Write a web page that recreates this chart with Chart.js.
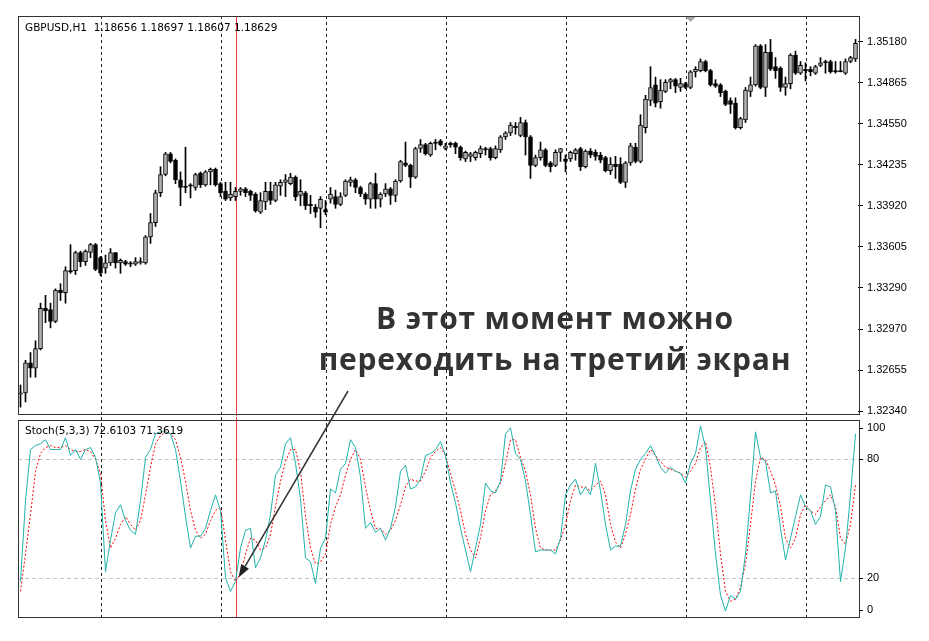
<!DOCTYPE html>
<html>
<head>
<meta charset="utf-8">
<script src="https://cdn.jsdelivr.net/npm/chart.js@4.4.1/dist/chart.umd.min.js"></script>
<style>
  html, body { margin: 0; padding: 0; background: #fff; }
  #wrap { position: relative; width: 929px; height: 641px; }
  #wrap canvas { position: absolute; left: 0; top: 0; }
</style>
</head>
<body>
<div id="wrap">
  <canvas id="price" width="929" height="641"></canvas>
  <canvas id="stoch" width="929" height="641"></canvas>
</div>
<script>
// GBPUSD H1 - свечи (open / high / low / close)
const openP = [
  1.3247, 1.3248, 1.3271, 1.3267, 1.3282, 1.3313, 1.3312, 1.3303, 1.3327, 1.3325,
  1.3342, 1.3342, 1.3356, 1.3349, 1.3356, 1.3362, 1.3352, 1.3344, 1.3348, 1.3356,
  1.3348, 1.3349, 1.3348, 1.3347, 1.3348, 1.3348, 1.3368, 1.3379, 1.3402, 1.3416,
  1.3432, 1.3427, 1.3412, 1.3407, 1.3408, 1.3406, 1.3417, 1.3408, 1.3418, 1.3420,
  1.3409, 1.3403, 1.3398, 1.3399, 1.3403, 1.3405, 1.3403, 1.3401, 1.3387, 1.3395,
  1.3403, 1.3396, 1.3407, 1.3410, 1.3409, 1.3414, 1.3400, 1.3402, 1.3393, 1.3391,
  1.3390, 1.3389, 1.3397, 1.3399, 1.3393, 1.3400, 1.3410, 1.3412, 1.3406, 1.3401,
  1.3397, 1.3409, 1.3397, 1.3401, 1.3405, 1.3400, 1.3411, 1.3425, 1.3423, 1.3414,
  1.3436, 1.3439, 1.3431, 1.3441, 1.3442, 1.3436, 1.3440, 1.3440, 1.3437, 1.3428,
  1.3430, 1.3429, 1.3432, 1.3436, 1.3436, 1.3429, 1.3435, 1.3445, 1.3448, 1.3453,
  1.3446, 1.3456, 1.3445, 1.3423, 1.3429, 1.3435, 1.3425, 1.3423, 1.3433, 1.3428,
  1.3428, 1.3432, 1.3436, 1.3422, 1.3434, 1.3433, 1.3431, 1.3429, 1.3419, 1.3424,
  1.3424, 1.3410, 1.3425, 1.3437, 1.3426, 1.3452, 1.3473, 1.3485, 1.3472, 1.3480,
  1.3487, 1.3489, 1.3483, 1.3486, 1.3483, 1.3495, 1.3496, 1.3503, 1.3496, 1.3486,
  1.3485, 1.3480, 1.3473, 1.3471, 1.3452, 1.3458, 1.3480, 1.3485, 1.3515, 1.3483,
  1.3510, 1.3499, 1.3498, 1.3483, 1.3486, 1.3508, 1.3494, 1.3497, 1.3497, 1.3494,
  1.3500, 1.3503, 1.3503, 1.3496, 1.3496, 1.3494, 1.3503, 1.3505
];
const highP = [
  1.3254, 1.3273, 1.3279, 1.3288, 1.3317, 1.3323, 1.3317, 1.3328, 1.3332, 1.3345,
  1.3362, 1.3357, 1.3357, 1.3358, 1.3363, 1.3363, 1.3353, 1.3354, 1.3359, 1.3356,
  1.3351, 1.3350, 1.3349, 1.3352, 1.3352, 1.3369, 1.3386, 1.3404, 1.3422, 1.3433,
  1.3433, 1.3428, 1.3418, 1.3437, 1.3409, 1.3417, 1.3418, 1.3419, 1.3421, 1.3421,
  1.3410, 1.3410, 1.3410, 1.3406, 1.3406, 1.3406, 1.3404, 1.3402, 1.3402, 1.3410,
  1.3410, 1.3410, 1.3412, 1.3416, 1.3417, 1.3415, 1.3412, 1.3403, 1.3400, 1.3393,
  1.3399, 1.3396, 1.3406, 1.3404, 1.3402, 1.3412, 1.3414, 1.3413, 1.3407, 1.3402,
  1.3410, 1.3417, 1.3402, 1.3409, 1.3406, 1.3412, 1.3427, 1.3441, 1.3424, 1.3437,
  1.3443, 1.3440, 1.3441, 1.3443, 1.3443, 1.3440, 1.3441, 1.3441, 1.3438, 1.3434,
  1.3433, 1.3434, 1.3438, 1.3437, 1.3437, 1.3438, 1.3446, 1.3449, 1.3456, 1.3456,
  1.3460, 1.3458, 1.3446, 1.3431, 1.3441, 1.3436, 1.3426, 1.3435, 1.3436, 1.3431,
  1.3434, 1.3436, 1.3437, 1.3435, 1.3436, 1.3435, 1.3433, 1.3430, 1.3429, 1.3430,
  1.3429, 1.3426, 1.3440, 1.3440, 1.3462, 1.3477, 1.3499, 1.3491, 1.3489, 1.3489,
  1.3490, 1.3490, 1.3490, 1.3487, 1.3496, 1.3499, 1.3505, 1.3504, 1.3497, 1.3489,
  1.3486, 1.3481, 1.3475, 1.3475, 1.3460, 1.3483, 1.3491, 1.3516, 1.3516, 1.3516,
  1.3520, 1.3506, 1.3499, 1.3491, 1.3509, 1.3511, 1.3503, 1.3502, 1.3499, 1.3500,
  1.3506, 1.3504, 1.3504, 1.3503, 1.3503, 1.3505, 1.3507, 1.3520
];
const lowP = [
  1.3237, 1.3241, 1.3260, 1.3260, 1.3281, 1.3302, 1.3298, 1.3302, 1.3319, 1.3317,
  1.3340, 1.3339, 1.3345, 1.3346, 1.3352, 1.3342, 1.3338, 1.3340, 1.3346, 1.3344,
  1.3340, 1.3346, 1.3345, 1.3346, 1.3347, 1.3347, 1.3363, 1.3376, 1.3399, 1.3415,
  1.3425, 1.3409, 1.3392, 1.3402, 1.3398, 1.3404, 1.3406, 1.3407, 1.3408, 1.3407,
  1.3399, 1.3396, 1.3396, 1.3396, 1.3400, 1.3399, 1.3396, 1.3387, 1.3386, 1.3389,
  1.3393, 1.3395, 1.3400, 1.3399, 1.3408, 1.3396, 1.3392, 1.3389, 1.3386, 1.3383,
  1.3375, 1.3385, 1.3394, 1.3390, 1.3392, 1.3399, 1.3407, 1.3402, 1.3399, 1.3393,
  1.3390, 1.3390, 1.3391, 1.3399, 1.3393, 1.3395, 1.3410, 1.3422, 1.3406, 1.3413,
  1.3433, 1.3431, 1.3430, 1.3435, 1.3438, 1.3435, 1.3437, 1.3432, 1.3427, 1.3426,
  1.3426, 1.3427, 1.3429, 1.3431, 1.3427, 1.3428, 1.3433, 1.3443, 1.3446, 1.3447,
  1.3445, 1.3431, 1.3413, 1.3422, 1.3427, 1.3422, 1.3418, 1.3422, 1.3426, 1.3418,
  1.3426, 1.3427, 1.3419, 1.3421, 1.3429, 1.3427, 1.3425, 1.3418, 1.3416, 1.3413,
  1.3409, 1.3406, 1.3423, 1.3425, 1.3425, 1.3448, 1.3469, 1.3468, 1.3467, 1.3479,
  1.3482, 1.3479, 1.3480, 1.3482, 1.3482, 1.3491, 1.3495, 1.3495, 1.3484, 1.3483,
  1.3476, 1.3469, 1.3463, 1.3451, 1.3451, 1.3456, 1.3476, 1.3484, 1.3482, 1.3476,
  1.3496, 1.3490, 1.3480, 1.3477, 1.3482, 1.3493, 1.3493, 1.3488, 1.3492, 1.3493,
  1.3499, 1.3494, 1.3494, 1.3494, 1.3495, 1.3493, 1.3502, 1.3503
];
const closeP = [
  1.3248, 1.3271, 1.3267, 1.3282, 1.3313, 1.3311, 1.3303, 1.3327, 1.3325, 1.3342,
  1.3341, 1.3356, 1.3349, 1.3357, 1.3362, 1.3343, 1.3340, 1.3348, 1.3356, 1.3348,
  1.3350, 1.3347, 1.3347, 1.3349, 1.3349, 1.3368, 1.3379, 1.3402, 1.3416, 1.3432,
  1.3426, 1.3412, 1.3406, 1.3406, 1.3407, 1.3416, 1.3408, 1.3418, 1.3420, 1.3408,
  1.3402, 1.3397, 1.3401, 1.3403, 1.3405, 1.3402, 1.3400, 1.3388, 1.3396, 1.3403,
  1.3396, 1.3408, 1.3410, 1.3412, 1.3414, 1.3399, 1.3403, 1.3392, 1.3392, 1.3387,
  1.3397, 1.3387, 1.3401, 1.3393, 1.3399, 1.3411, 1.3412, 1.3406, 1.3401, 1.3397,
  1.3409, 1.3397, 1.3401, 1.3405, 1.3400, 1.3411, 1.3426, 1.3423, 1.3414, 1.3436,
  1.3439, 1.3432, 1.3440, 1.3440, 1.3439, 1.3438, 1.3439, 1.3437, 1.3429, 1.3433,
  1.3432, 1.3433, 1.3436, 1.3435, 1.3429, 1.3436, 1.3445, 1.3448, 1.3454, 1.3452,
  1.3456, 1.3445, 1.3423, 1.3429, 1.3435, 1.3423, 1.3422, 1.3433, 1.3436, 1.3426,
  1.3433, 1.3435, 1.3422, 1.3434, 1.3431, 1.3430, 1.3427, 1.3419, 1.3424, 1.3422,
  1.3410, 1.3425, 1.3438, 1.3426, 1.3454, 1.3474, 1.3483, 1.3471, 1.3481, 1.3487,
  1.3489, 1.3484, 1.3486, 1.3483, 1.3495, 1.3497, 1.3503, 1.3496, 1.3485, 1.3484,
  1.3479, 1.3470, 1.3470, 1.3452, 1.3459, 1.3481, 1.3485, 1.3515, 1.3483, 1.3510,
  1.3497, 1.3496, 1.3483, 1.3486, 1.3508, 1.3494, 1.3500, 1.3496, 1.3495, 1.3499,
  1.3502, 1.3502, 1.3495, 1.3495, 1.3495, 1.3503, 1.3506, 1.3517
];

// Stoch(5,3,3): основная линия и сигнальная
const stochK = [
  18, 59, 85, 87, 88, 90, 85, 85, 85, 91,
  82, 85, 80, 85, 86, 81, 68, 23, 39, 53,
  57, 49, 44, 42, 59, 81, 85, 93, 94, 94,
  93, 85, 69, 51, 35, 41, 41, 45, 54, 62,
  54, 20, 13, 18, 35, 44, 45, 25, 30, 39,
  52, 72, 76, 88, 91, 78, 60, 30, 28, 17,
  35, 40, 65, 63, 75, 78, 90, 86, 71, 45,
  48, 43, 45, 39, 45, 56, 74, 77, 65, 66,
  70, 82, 83, 85, 89, 82, 68, 58, 45, 34,
  23, 35, 47, 68, 64, 63, 69, 93, 96, 83,
  80, 69, 52, 33, 34, 34, 34, 32, 40, 62,
  67, 70, 62, 66, 62, 78, 64, 47, 34, 36,
  36, 47, 64, 75, 80, 83, 87, 82, 76, 73,
  76, 74, 73, 68, 78, 83, 97, 86, 59, 32,
  11, 3, 11, 9, 13, 32, 61, 94, 81, 79,
  63, 64, 45, 29, 40, 51, 62, 56, 54, 47,
  51, 67, 66, 54, 18, 35, 62, 93
];
const stochD = [
  13, 32, 52, 74, 83, 86, 87, 86, 86, 87,
  85, 84, 84, 85, 84, 80, 73, 49, 35, 40,
  47, 51, 47, 44, 49, 62, 76, 88, 92, 94,
  93, 90, 81, 69, 54, 44, 40, 42, 49, 54,
  56, 39, 23, 18, 22, 32, 40, 39, 34, 35,
  42, 56, 69, 79, 85, 85, 74, 51, 35, 27,
  28, 32, 47, 56, 62, 72, 80, 85, 80, 66,
  54, 45, 45, 42, 44, 49, 57, 66, 70, 69,
  69, 74, 81, 84, 86, 82, 73, 64, 54, 42,
  34, 30, 40, 54, 62, 64, 68, 78, 90, 90,
  81, 74, 62, 45, 35, 34, 34, 34, 39, 47,
  59, 67, 66, 66, 64, 67, 69, 62, 47, 38,
  35, 42, 52, 65, 75, 80, 85, 82, 79, 76,
  75, 74, 73, 71, 74, 78, 86, 89, 76, 56,
  32, 13, 8, 9, 15, 27, 47, 69, 81, 80,
  74, 67, 56, 40, 35, 40, 52, 57, 54, 52,
  56, 59, 62, 56, 40, 37, 47, 67
];

// Подписи шкал
const priceTicks = [1.32340, 1.32655, 1.32970, 1.33290, 1.33605, 1.33920, 1.34235, 1.34550, 1.34865, 1.35180];
const stochLevels = [0, 20, 80, 100];
const stochGrid = [20, 80];

// Разделители дней и отмеченная свеча
const daySeparators = [16, 40, 61, 85, 109, 133, 157];
const markerBar = 43;

const labels = openP.map((_, i) => i);

const AXIS_W = 71;
const axisFont = { family: 'Liberation Sans', size: 11 };

// Вертикальные линии (разделители дней и красная линия)
function drawVerticals(chart, extraTop, extraBottom) {
  const { ctx, chartArea } = chart;
  const xs = chart.scales.x;
  ctx.save();
  ctx.lineWidth = 1;
  ctx.strokeStyle = '#222';
  ctx.setLineDash([3, 3]);
  daySeparators.forEach(i => {
    const x = Math.round(xs.getPixelForValue(i)) + 0.5;
    ctx.beginPath();
    ctx.moveTo(x, chartArea.top - extraTop);
    ctx.lineTo(x, chartArea.bottom + extraBottom);
    ctx.stroke();
  });
  ctx.setLineDash([]);
  ctx.strokeStyle = 'rgb(240, 60, 60)';
  const xr = Math.round(xs.getPixelForValue(markerBar)) + 0.5;
  ctx.beginPath();
  ctx.moveTo(xr, chartArea.top - extraTop);
  ctx.lineTo(xr, chartArea.bottom + extraBottom);
  ctx.stroke();
  ctx.restore();
}

function drawFrame(chart) {
  const { ctx, chartArea } = chart;
  ctx.save();
  ctx.strokeStyle = '#333';
  ctx.lineWidth = 1;
  ctx.strokeRect(chartArea.left + 0.5, chartArea.top + 0.5,
    chartArea.right - chartArea.left + 1, chartArea.bottom - chartArea.top);
  ctx.restore();
}

// Верхняя панель
const pricePanel = {
  id: 'pricePanel',
  beforeDatasetsDraw(chart) {
    drawVerticals(chart, 0, 2);
  },
  afterDraw(chart) {
    const { ctx, chartArea } = chart;
    drawFrame(chart);
    ctx.save();
    ctx.font = '10.5px "DejaVu Sans"';
    ctx.fillStyle = '#000';
    ctx.textBaseline = 'middle';
    ctx.fillText('GBPUSD,H1  1.18656 1.18697 1.18607 1.18629', chartArea.left + 7, chartArea.top + 12);
    // маркер сдвига графика
    const xs = chart.scales.x.getPixelForValue(134);
    ctx.fillStyle = '#a8a8a8';
    ctx.beginPath();
    ctx.moveTo(xs - 5, chartArea.top + 1);
    ctx.lineTo(xs + 5, chartArea.top + 1);
    ctx.lineTo(xs, chartArea.top + 6);
    ctx.closePath();
    ctx.fill();
    ctx.restore();
  }
};

// Нижняя панель
const note = {
  lines: ['В этот момент можно', 'переходить на третий экран'],
  centerX: 555,
  baselines: [329, 370],
  arrowFrom: [348, 391],
  arrowBar: 43.6,
  arrowLevel: 20
};

const stochPanel = {
  id: 'stochPanel',
  beforeDatasetsDraw(chart) {
    const { ctx, chartArea } = chart;
    const ys = chart.scales.y;
    ctx.save();
    ctx.strokeStyle = '#c4c4c4';
    ctx.lineWidth = 1;
    ctx.setLineDash([4, 3]);
    stochGrid.forEach(v => {
      const y = Math.round(ys.getPixelForValue(v)) + 0.5;
      ctx.beginPath();
      ctx.moveTo(chartArea.left, y);
      ctx.lineTo(chartArea.right + 8, y);
      ctx.stroke();
    });
    ctx.restore();
    drawVerticals(chart, 3, 0);
  },
  afterDraw(chart) {
    const { ctx, chartArea } = chart;
    const ys = chart.scales.y;
    const xs = chart.scales.x;
    drawFrame(chart);
    ctx.save();
    ctx.font = '10.5px "DejaVu Sans"';
    ctx.fillStyle = '#000';
    ctx.textBaseline = 'middle';
    ctx.fillText('Stoch(5,3,3) 72.6103 71.3619', chartArea.left + 7, chartArea.top + 11);
    // подписи уровней справа
    ctx.font = '11px "Liberation Sans"';
    stochLevels.forEach(v => {
      let y = ys.getPixelForValue(v);
      y = Math.min(Math.max(y, chartArea.top + 8), chartArea.bottom - 7);
      ctx.fillText(String(v), chartArea.right + 9, y);
      ctx.beginPath();
      ctx.moveTo(chartArea.right + 1, Math.round(y) + 0.5);
      ctx.lineTo(chartArea.right + 5, Math.round(y) + 0.5);
      ctx.strokeStyle = '#000';
      ctx.stroke();
    });

    // надпись
    ctx.font = 'bold 30px "Open Sans"';
    ctx.letterSpacing = '0.8px';
    ctx.fillStyle = '#333';
    ctx.textAlign = 'center';
    ctx.textBaseline = 'alphabetic';
    note.lines.forEach((t, k) => ctx.fillText(t, note.centerX, note.baselines[k]));
    ctx.letterSpacing = '0px';

    // стрелка
    const tx = xs.getPixelForValue(note.arrowBar);
    const ty = ys.getPixelForValue(note.arrowLevel);
    const [fx, fy] = note.arrowFrom;
    const ang = Math.atan2(ty - fy, tx - fx);
    const headLen = 13, headW = 4.5;
    const bx = tx - headLen * Math.cos(ang), by = ty - headLen * Math.sin(ang);
    ctx.strokeStyle = '#333';
    ctx.lineWidth = 1.5;
    ctx.beginPath();
    ctx.moveTo(fx, fy);
    ctx.lineTo(bx, by);
    ctx.stroke();
    ctx.fillStyle = '#222';
    ctx.beginPath();
    ctx.moveTo(tx, ty);
    ctx.lineTo(bx + headW * Math.sin(ang), by - headW * Math.cos(ang));
    ctx.lineTo(bx - headW * Math.sin(ang), by + headW * Math.cos(ang));
    ctx.closePath();
    ctx.fill();
    ctx.restore();
  }
};

// Свечи: тени и тела как плавающие столбики
new Chart(document.getElementById('price'), {
  type: 'bar',
  data: {
    labels: labels,
    datasets: [
      {
        data: lowP.map((l, i) => [l, highP[i]]),
        backgroundColor: '#000',
        barThickness: 1,
        grouped: false,
        order: 1
      },
      {
        data: openP.map((o, i) => [o, closeP[i]]),
        backgroundColor: c => closeP[c.dataIndex] >= openP[c.dataIndex] ? '#b0b0b0' : '#000',
        borderColor: '#000',
        borderWidth: 1,
        borderSkipped: false,
        barThickness: 4,
        minBarLength: 1,
        grouped: false,
        order: 0
      }
    ]
  },
  options: {
    responsive: false,
    animation: false,
    events: [],
    layout: { padding: { left: 18, top: 16, right: 0, bottom: 641 - 414 } },
    plugins: { legend: { display: false }, tooltip: { enabled: false } },
    scales: {
      x: { display: false, offset: true },
      y: {
        position: 'right',
        min: 1.32317,
        max: 1.35380,
        afterFit: s => { s.width = AXIS_W; },
        afterBuildTicks: s => { s.ticks = priceTicks.map(v => ({ value: v })); },
        ticks: { callback: v => v.toFixed(5), color: '#000', font: axisFont, padding: 4 },
        grid: { drawOnChartArea: false, drawTicks: true, tickLength: 5, tickColor: '#000' },
        border: { display: false }
      }
    }
  },
  plugins: [pricePanel]
});

// Стохастик
new Chart(document.getElementById('stoch'), {
  type: 'line',
  data: {
    labels: labels,
    datasets: [
      { data: stochK, borderColor: '#20b2aa', borderWidth: 1, pointRadius: 0, tension: 0 },
      { data: stochD, borderColor: '#ff0000', borderWidth: 1, borderDash: [2, 2], pointRadius: 0, tension: 0 }
    ]
  },
  options: {
    responsive: false,
    animation: false,
    events: [],
    layout: { padding: { left: 18, top: 420, right: 0, bottom: 641 - 617 } },
    plugins: { legend: { display: false }, tooltip: { enabled: false } },
    scales: {
      x: { display: false, offset: true },
      y: {
        position: 'right',
        min: 0,
        max: 100,
        afterFit: s => { s.width = AXIS_W; },
        ticks: { display: false },
        grid: { display: false },
        border: { display: false }
      }
    }
  },
  plugins: [stochPanel]
});
</script>
</body>
</html>
